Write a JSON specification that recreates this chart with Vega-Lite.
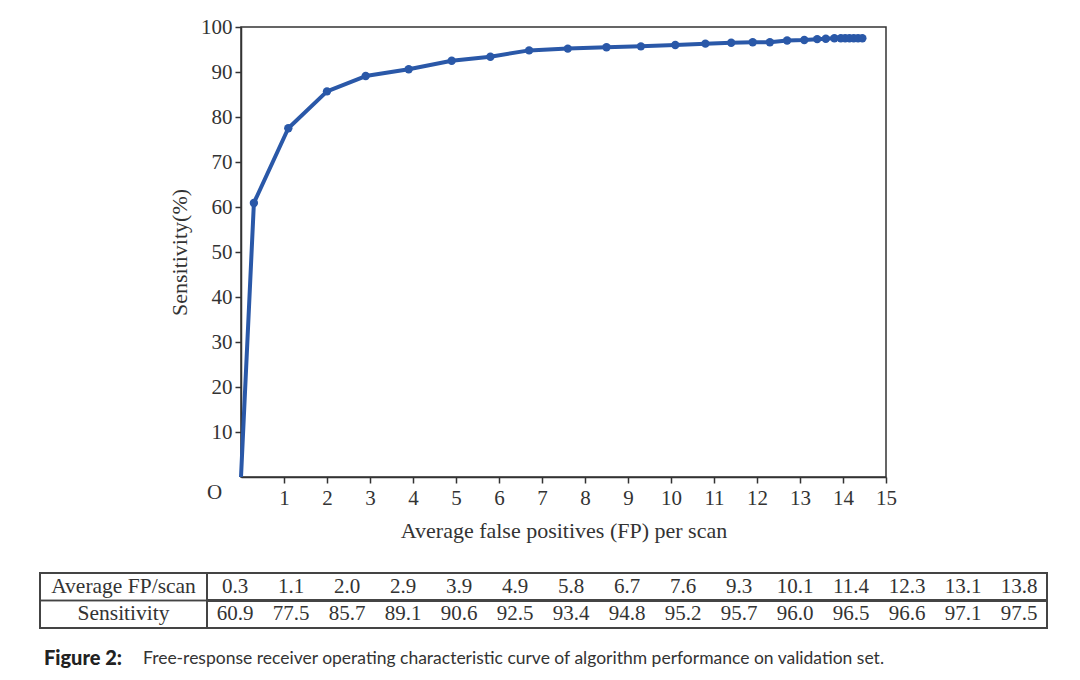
{
  "$schema": "https://vega.github.io/schema/vega-lite/v6.json",
  "background": "white",
  "padding": {"left": 38, "top": 15, "right": 5, "bottom": 5},
  "spacing": 30,
  "config": {
    "view": {"stroke": null},
    "font": "Liberation Serif",
    "axis": {
      "labelFont": "Liberation Serif", "titleFont": "Liberation Serif",
      "labelColor": "#333", "titleColor": "#333", "domainColor": "#333", "tickColor": "#333",
      "labelFontSize": 21, "titleFontSize": 22, "titleFontWeight": "normal",
      "grid": false, "domainWidth": 1.5, "tickWidth": 1.5, "tickSize": 6
    },
    "concat": {"spacing": 0}
  },
  "datasets": {
    "curve": [
      {"fp": 0, "sens": 0},
      {"fp": 0.3, "sens": 60.9},
      {"fp": 1.1, "sens": 77.5},
      {"fp": 2.0, "sens": 85.7},
      {"fp": 2.9, "sens": 89.1},
      {"fp": 3.9, "sens": 90.6},
      {"fp": 4.9, "sens": 92.5},
      {"fp": 5.8, "sens": 93.4},
      {"fp": 6.7, "sens": 94.8},
      {"fp": 7.6, "sens": 95.2},
      {"fp": 8.5, "sens": 95.5},
      {"fp": 9.3, "sens": 95.7},
      {"fp": 10.1, "sens": 96.0},
      {"fp": 10.8, "sens": 96.3},
      {"fp": 11.4, "sens": 96.5},
      {"fp": 11.9, "sens": 96.6},
      {"fp": 12.3, "sens": 96.6},
      {"fp": 12.7, "sens": 97.0},
      {"fp": 13.1, "sens": 97.1},
      {"fp": 13.4, "sens": 97.3},
      {"fp": 13.6, "sens": 97.4},
      {"fp": 13.8, "sens": 97.5},
      {"fp": 13.95, "sens": 97.5},
      {"fp": 14.05, "sens": 97.5},
      {"fp": 14.15, "sens": 97.5},
      {"fp": 14.25, "sens": 97.5},
      {"fp": 14.35, "sens": 97.5},
      {"fp": 14.45, "sens": 97.5}
    ],
    "table": [
      {"fp": 0.3, "sens": 60.9},
      {"fp": 1.1, "sens": 77.5},
      {"fp": 2.0, "sens": 85.7},
      {"fp": 2.9, "sens": 89.1},
      {"fp": 3.9, "sens": 90.6},
      {"fp": 4.9, "sens": 92.5},
      {"fp": 5.8, "sens": 93.4},
      {"fp": 6.7, "sens": 94.8},
      {"fp": 7.6, "sens": 95.2},
      {"fp": 9.3, "sens": 95.7},
      {"fp": 10.1, "sens": 96.0},
      {"fp": 11.4, "sens": 96.5},
      {"fp": 12.3, "sens": 96.6},
      {"fp": 13.1, "sens": 97.1},
      {"fp": 13.8, "sens": 97.5}
    ],
    "header": [
      {"label": "Average FP/scan"},
      {"label": "Sensitivity"}
    ],
    "capbold": [{"text": "Figure 2:"}],
    "caprest": [{"text": "Free-response receiver operating characteristic curve of algorithm performance on validation set."}]
  },
  "vconcat": [
    {
      "spacing": 0,
      "hconcat": [
        {"width": 127, "height": 10, "data": {"values": []}, "mark": {"type": "text"}, "encoding": {}},
        {
          "width": 645, "height": 450,
          "view": {"stroke": "#333", "strokeWidth": 1.5},
          "data": {"name": "curve"},
          "encoding": {
            "x": {"field": "fp", "type": "quantitative",
              "scale": {"domain": [0, 15], "nice": false},
              "axis": {"values": [0,1,2,3,4,5,6,7,8,9,10,11,12,13,14,15],
                "title": "Average false positives (FP) per scan",
                "labelExpr": "datum.value === 0 ? 'O' : datum.label",
                "labelOffset": {"expr": "datum.value === 0 ? -27 : 0"},
                "labelPadding": {"expr": "datum.value === 0 ? -2 : 4"},
                "tickOpacity": {"expr": "datum.value === 0 ? 0 : 1"},
                "titlePadding": 12, "labelFlush": false}},
            "y": {"field": "sens", "type": "quantitative",
              "scale": {"domain": [0, 100], "nice": false},
              "axis": {"values": [10,20,30,40,50,60,70,80,90,100],
                "title": "Sensitivity(%)", "labelPadding": 3, "titlePadding": 9}}
          },
          "layer": [
            {"mark": {"type": "line", "color": "#2a58a8", "strokeWidth": 4, "strokeJoin": "round"}},
            {"transform": [{"filter": "datum.fp > 0"}],
             "mark": {"type": "circle", "color": "#2a58a8", "size": 70, "opacity": 1}}
          ]
        }
      ]
    },
    {
      "spacing": 20,
      "vconcat": [
        {
          "spacing": 0,
          "bounds": "flush",
          "hconcat": [
            {
              "width": 167, "height": 55,
              "view": {"stroke": "#444", "strokeWidth": 2},
              "data": {"name": "header"},
              "layer": [
                {"mark": {"type": "text", "fontSize": 21.5, "font": "Liberation Serif", "color": "#333"},
                 "encoding": {
                   "y": {"field": "label", "type": "nominal", "scale": {"domain": ["Average FP/scan", "Sensitivity"], "paddingInner": 0, "paddingOuter": 0}, "axis": null},
                   "text": {"field": "label"}}},
                {"mark": {"type": "rule", "color": "#444", "strokeWidth": 1.5},
                 "encoding": {"y": {"datum": "Sensitivity", "type": "nominal", "bandPosition": 0}}}
              ]
            },
            {
              "width": 840, "height": 55,
              "view": {"stroke": "#444", "strokeWidth": 2},
              "data": {"name": "table"},
              "encoding": {
                "x": {"field": "fp", "type": "ordinal", "scale": {"paddingInner": 0, "paddingOuter": 0}, "axis": null}
              },
              "layer": [
                {"mark": {"type": "text", "fontSize": 21, "font": "Liberation Serif", "color": "#333"},
                 "encoding": {
                   "y": {"datum": "Average FP/scan", "type": "nominal", "scale": {"domain": ["Average FP/scan", "Sensitivity"], "paddingInner": 0, "paddingOuter": 0}, "axis": null},
                   "text": {"field": "fp", "type": "quantitative", "format": ".1f"}}},
                {"mark": {"type": "text", "fontSize": 21, "font": "Liberation Serif", "color": "#333"},
                 "encoding": {
                   "y": {"datum": "Sensitivity", "type": "nominal"},
                   "text": {"field": "sens", "type": "quantitative", "format": ".1f"}}},
                {"mark": {"type": "rule", "color": "#444", "strokeWidth": 1.5},
                 "encoding": {"y": {"datum": "Sensitivity", "type": "nominal", "bandPosition": 0}, "x": null}}
              ]
            }
          ]
        },
        {
          "spacing": 0,
          "hconcat": [
            {"width": 86, "height": 4, "data": {"name": "capbold"},
             "mark": {"type": "text", "font": "Lato", "fontWeight": 900, "fontSize": 20, "color": "#222"},
             "encoding": {"text": {"field": "text"}}},
            {"width": 775, "height": 4, "data": {"name": "caprest"},
             "mark": {"type": "text", "font": "Lato", "fontSize": 17.5, "color": "#333"},
             "encoding": {"text": {"field": "text"}}}
          ]
        }
      ]
    }
  ]
}
